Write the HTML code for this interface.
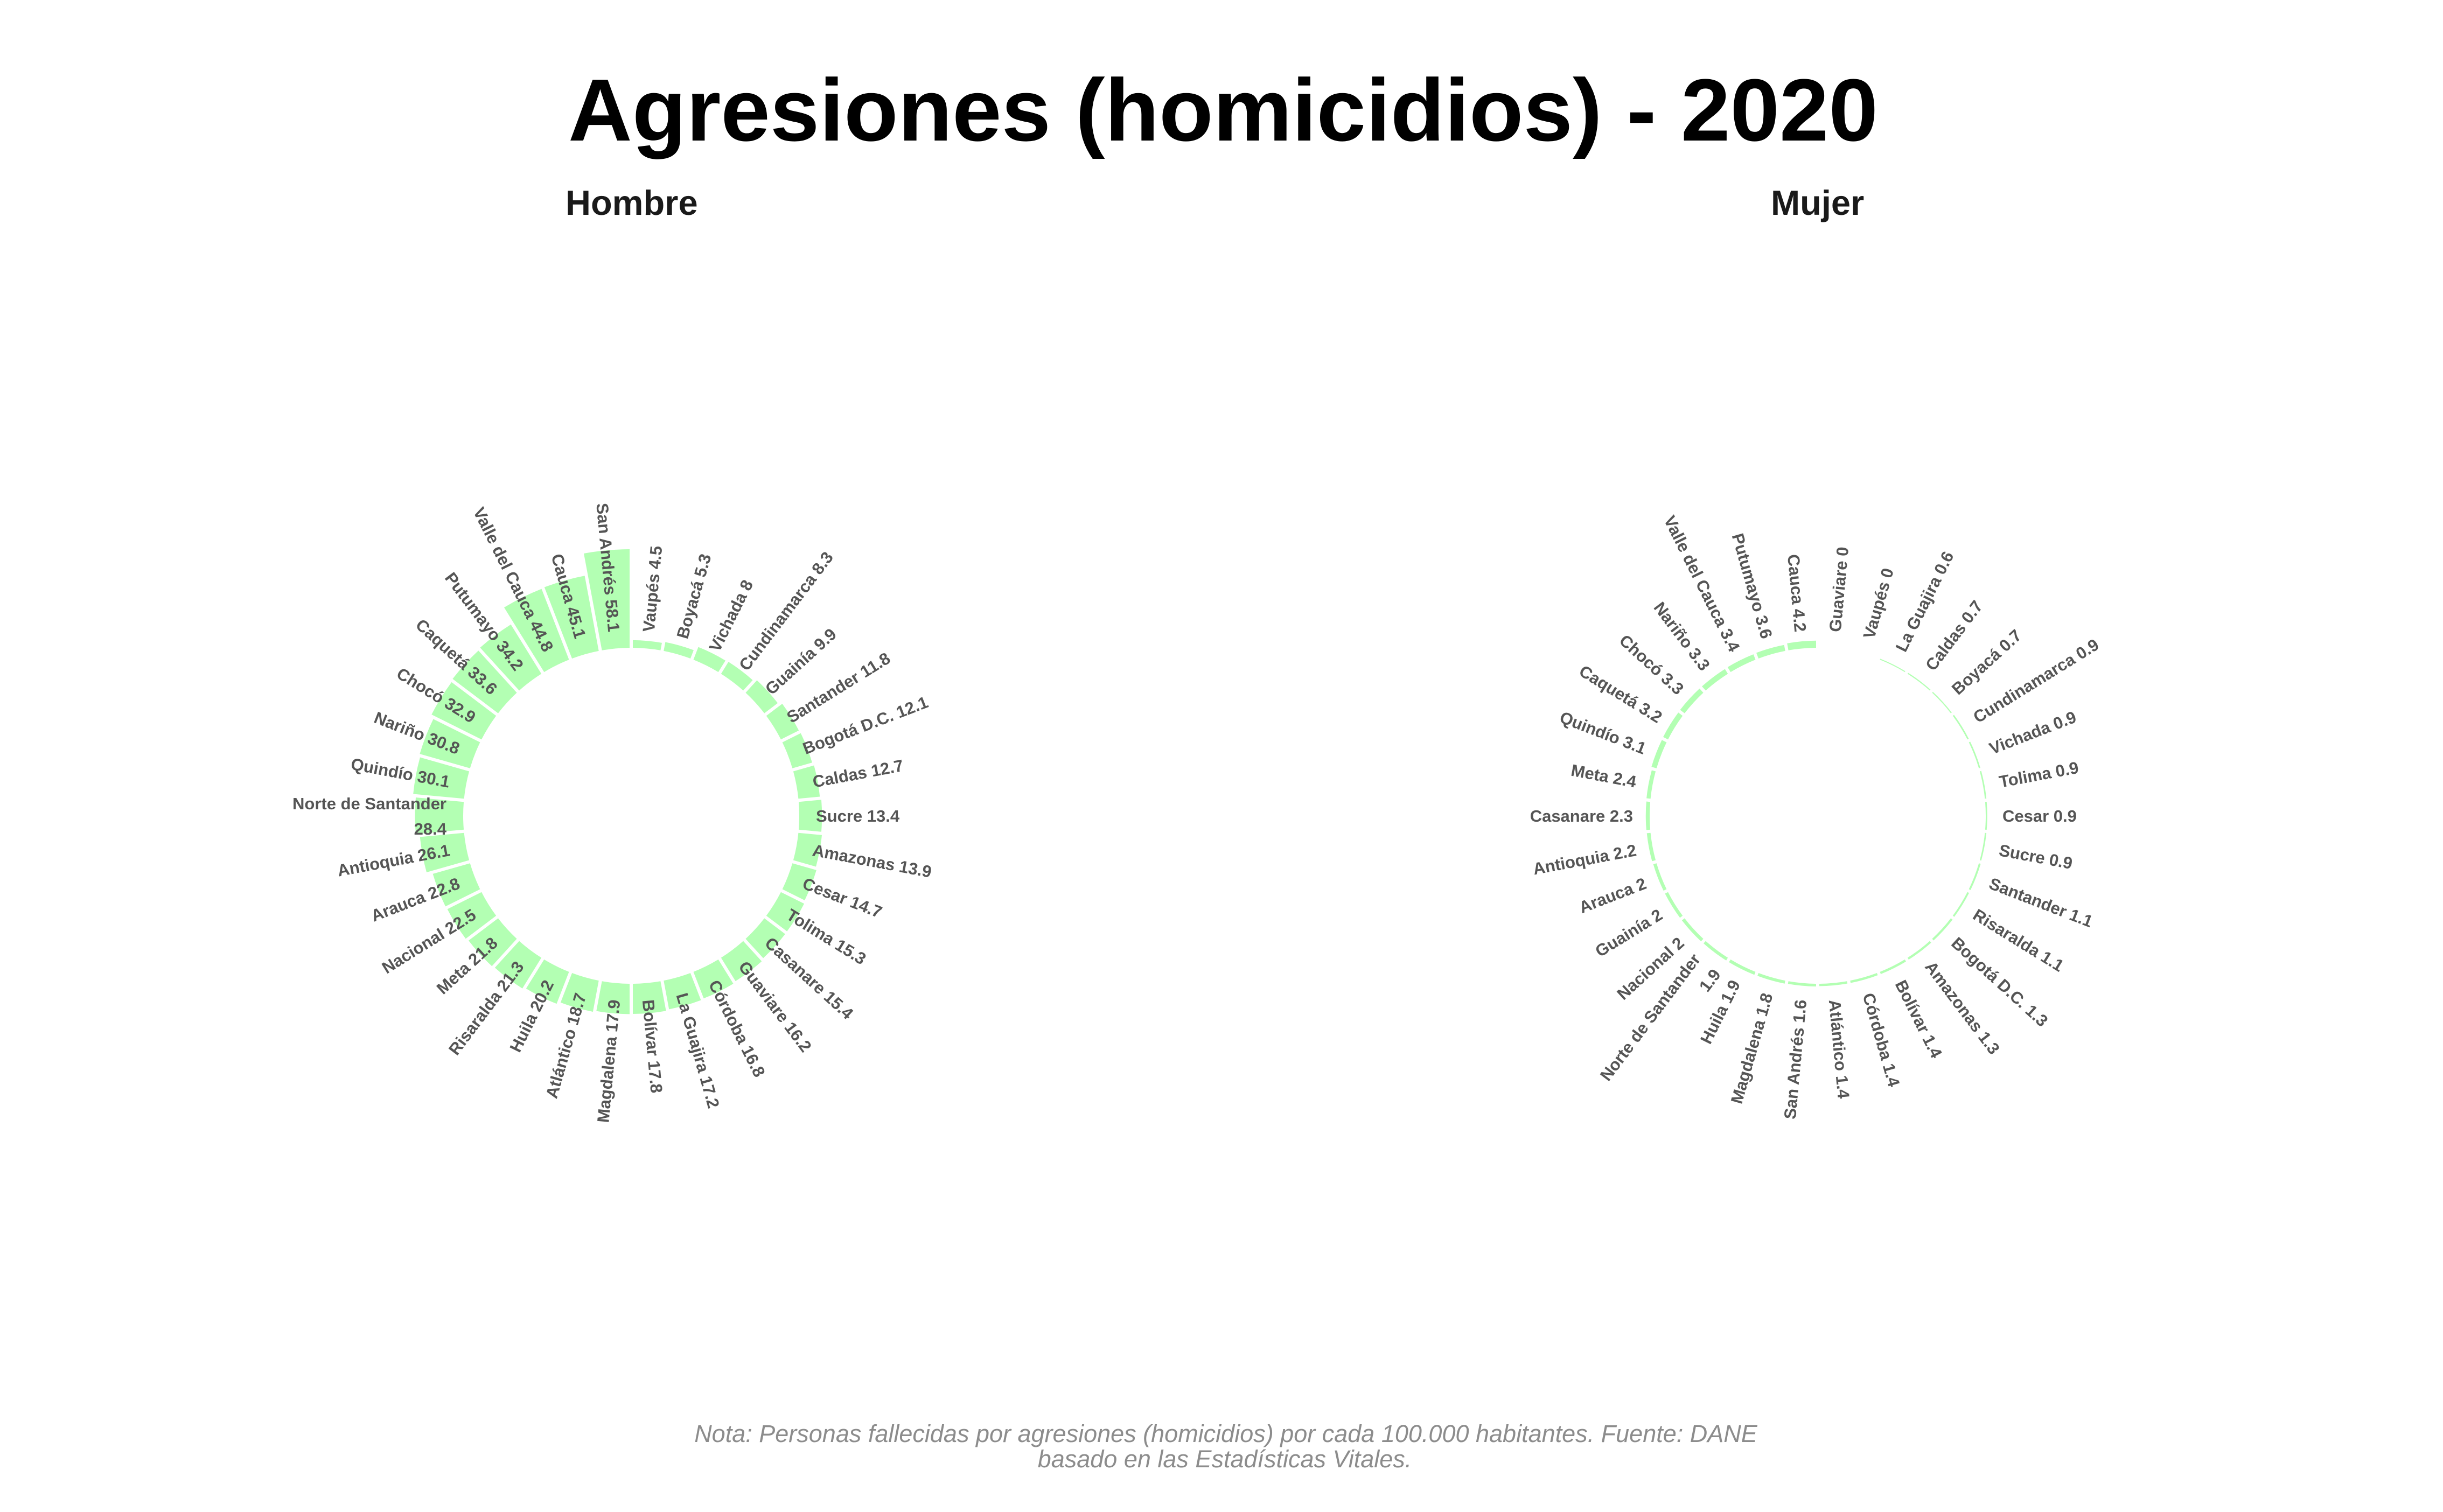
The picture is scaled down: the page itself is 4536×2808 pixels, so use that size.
<!DOCTYPE html>
<html><head><meta charset="utf-8">
<style>
html,body{margin:0;padding:0;background:#fff;}
svg{display:block;}
text{font-family:"Liberation Sans",sans-serif;}
</style></head>
<body>
<svg id="chart" xmlns="http://www.w3.org/2000/svg" width="4536" height="2808" viewBox="0 0 4536 2808">
<rect width="4536" height="2808" fill="#fff"/>
<text x="2271" y="261" text-anchor="middle" font-size="164" font-weight="bold" fill="#000" textLength="2432" lengthAdjust="spacingAndGlyphs">Agresiones (homicidios) - 2020</text>
<text x="1050" y="399" font-size="65" font-weight="bold" fill="#1a1a1a">Hombre</text>
<text x="3288" y="399" font-size="65" font-weight="bold" fill="#1a1a1a">Mujer</text>
<g id="hombre"></g>
<g id="mujer"></g>
<text x="2276" y="2678" text-anchor="middle" font-size="45" font-style="italic" fill="#8c8c8c">Nota: Personas fallecidas por agresiones (homicidios) por cada 100.000 habitantes. Fuente: DANE</text>
<text x="2274" y="2725" text-anchor="middle" font-size="45" font-style="italic" fill="#8c8c8c">basado en las Estadísticas Vitales.</text>
</svg>
<script>
const hombreCategories = ["Vaupés","Boyacá","Vichada","Cundinamarca","Guainía","Santander","Bogotá D.C.","Caldas","Sucre","Amazonas","Cesar","Tolima","Casanare","Guaviare","Córdoba","La Guajira","Bolívar","Magdalena","Atlántico","Huila","Risaralda","Meta","Nacional","Arauca","Antioquia","Norte de Santander","Quindío","Nariño","Chocó","Caquetá","Putumayo","Valle del Cauca","Cauca","San Andrés"];
const hombreValues = [4.5,5.3,8,8.3,9.9,11.8,12.1,12.7,13.4,13.9,14.7,15.3,15.4,16.2,16.8,17.2,17.8,17.9,18.7,20.2,21.3,21.8,22.5,22.8,26.1,28.4,30.1,30.8,32.9,33.6,34.2,44.8,45.1,58.1];
const mujerCategories = ["Guaviare","Vaupés","La Guajira","Caldas","Boyacá","Cundinamarca","Vichada","Tolima","Cesar","Sucre","Santander","Risaralda","Bogotá D.C.","Amazonas","Bolívar","Córdoba","Atlántico","San Andrés","Magdalena","Huila","Norte de Santander","Nacional","Guainía","Arauca","Antioquia","Casanare","Meta","Quindío","Caquetá","Chocó","Nariño","Valle del Cauca","Putumayo","Cauca"];
const mujerValues = [0,0,0.6,0.7,0.7,0.9,0.9,0.9,0.9,0.9,1.1,1.1,1.3,1.3,1.4,1.4,1.4,1.6,1.8,1.9,1.9,2,2,2,2.2,2.3,2.4,3.1,3.2,3.3,3.3,3.4,3.6,4.2];

const NS = "http://www.w3.org/2000/svg";
const R0 = 312, K = 3.15, LABEL_R = 343, GAP = 3;
function rScale(v){ return R0 + K * v; }
function pt(cx, cy, r, a){ return [cx + r*Math.sin(a), cy - r*Math.cos(a)]; }

function drawPanel(gid, cats, vals, cx, cy){
  const g = document.getElementById(gid);
  const n = cats.length, step = 2*Math.PI/n;
  cats.forEach((c, i) => {
    const v = vals[i];
    const a0 = i*step, a1 = (i+1)*step;
    if (v > 0){
      const r1 = rScale(v);
      const pi = GAP / R0, po = GAP / r1;
      const p1 = pt(cx,cy,R0,a0+pi), p2 = pt(cx,cy,r1,a0+po), p3 = pt(cx,cy,r1,a1-po), p4 = pt(cx,cy,R0,a1-pi);
      const path = document.createElementNS(NS, "path");
      path.setAttribute("d", `M${p1[0]},${p1[1]} L${p2[0]},${p2[1]} A${r1},${r1} 0 0 1 ${p3[0]},${p3[1]} L${p4[0]},${p4[1]} A${R0},${R0} 0 0 0 ${p1[0]},${p1[1]} Z`);
      path.setAttribute("fill", "#b3ffb3");
      
      
      g.appendChild(path);
    }
    const am = (i+0.5)*step, deg = am*180/Math.PI;
    const p = pt(cx,cy,LABEL_R,am);
    const t = document.createElementNS(NS, "text");
    const left = deg >= 180;
    const rot = left ? deg - 270 : deg - 90;
    t.setAttribute("transform", `translate(${p[0]},${p[1]}) rotate(${rot})`);
    t.setAttribute("text-anchor", left ? "end" : "start");
    t.setAttribute("font-size", "31");
    t.setAttribute("font-weight", "bold");
    t.setAttribute("fill", "#555555");
    
    
    if (c === "Norte de Santander"){
      const s1 = document.createElementNS(NS, "tspan");
      s1.setAttribute("x","0"); s1.setAttribute("y","-12");
      s1.textContent = c;
      const s2 = document.createElementNS(NS, "tspan");
      s2.setAttribute("x","0"); s2.setAttribute("y","35");
      s2.textContent = String(v);
      t.appendChild(s1); t.appendChild(s2);
    } else {
      t.setAttribute("y", "11");
      t.textContent = c + " " + v;
    }
    g.appendChild(t);
  });
}
drawPanel("hombre", hombreCategories, hombreValues, 1172, 1515);
drawPanel("mujer", mujerCategories, mujerValues, 3375, 1515);
</script>
</body></html>
